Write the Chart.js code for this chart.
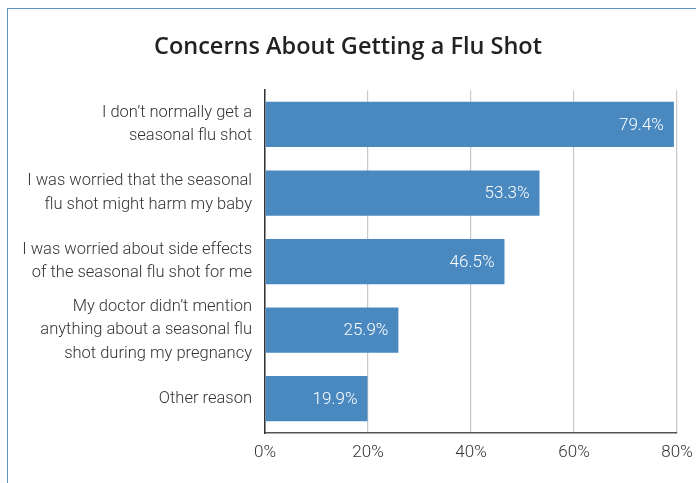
<!DOCTYPE html>
<html>
<head>
<meta charset="utf-8">
<script src="https://cdn.jsdelivr.net/npm/chart.js@4.4.1/dist/chart.umd.min.js"></script>
<style>
    html, body { margin: 0; padding: 0; background: #fff; }
    #wrap { position: relative; width: 696px; height: 483px; overflow: hidden; }
    #frame {
        position: absolute; left: 7px; top: 8px; width: 800px; height: 600px;
        border-left: 1.5px solid #5b96cc; border-top: 1.5px solid #5b96cc;
    }
    canvas { position: absolute; left: 0; top: 0; }
</style>
</head>
<body>
<div id="wrap">
    <div id="frame"></div>
    <canvas id="chart" width="696" height="483"></canvas>
</div>
<script>
    // Categories and values
    var categories = [
        ["I don\u2019t normally get a", "seasonal flu shot"],
        ["I was worried that the seasonal", "flu shot might harm my baby"],
        ["I was worried about side effects", "of the seasonal flu shot for me"],
        ["My doctor didn\u2019t mention", "anything about a seasonal flu", "shot during my pregnancy"],
        ["Other reason"]
    ];
    var percents = [79.4, 53.3, 46.5, 25.9, 19.9];
    var xTicks = [0, 20, 40, 60, 80];

    var labelFont = "Roboto";

    // Draw the value labels inside the bar ends
    var valueLabels = {
        id: 'valueLabels',
        afterDatasetsDraw: function (chart) {
            var ctx = chart.ctx;
            var meta = chart.getDatasetMeta(0);
            ctx.save();
            ctx.fillStyle = '#ffffff';
            ctx.font = '300 17px ' + labelFont;
            ctx.textAlign = 'right';
            ctx.textBaseline = 'middle';
            meta.data.forEach(function (bar, i) {
                ctx.fillText(percents[i].toFixed(1) + '%', bar.x - 10, bar.y + 1);
            });
            ctx.restore();
        }
    };

    var ctx = document.getElementById('chart').getContext('2d');
    var chart = new Chart(ctx, {
        type: 'bar',
        data: {
            labels: categories,
            datasets: [{
                data: percents,
                backgroundColor: '#4a89c0',
                barPercentage: 0.66,
                categoryPercentage: 1.0
            }]
        },
        options: {
            indexAxis: 'y',
            responsive: false,
            animation: false,
            layout: { padding: 0 },
            plugins: {
                legend: { display: false },
                tooltip: { enabled: false },
                title: {
                    display: true,
                    text: 'Concerns About Getting a Flu Shot',
                    color: '#222222',
                    font: { family: 'Open Sans', size: 23.5, weight: '600' },
                    padding: { top: 33, bottom: 29 }
                }
            },
            scales: {
                x: {
                    min: 0,
                    max: 80,
                    afterBuildTicks: function (axis) {
                        axis.ticks = xTicks.map(function (v) { return { value: v }; });
                    },
                    afterFit: function (axis) {
                        axis.height = 50;
                        axis.paddingLeft = 0;
                        axis.paddingRight = 19;
                    },
                    grid: { color: '#c8c8c8', lineWidth: 1.2, drawTicks: false },
                    border: { display: true, color: '#555555', width: 1.5 },
                    ticks: {
                        padding: 10,
                        color: '#333333',
                        font: { family: labelFont, size: 17, weight: '300' },
                        callback: function (v) { return v + '%'; }
                    }
                },
                y: {
                    afterFit: function (axis) { axis.width = 265; },
                    grid: { display: false, drawTicks: false },
                    border: { display: true, color: '#333333', width: 1.5 },
                    ticks: {
                        autoSkip: false,
                        padding: 13,
                        color: '#333333',
                        font: { family: labelFont, size: 16.5, weight: '300', lineHeight: 1.42 }
                    }
                }
            }
        },
        plugins: [valueLabels]
    });
</script>
</body>
</html>
